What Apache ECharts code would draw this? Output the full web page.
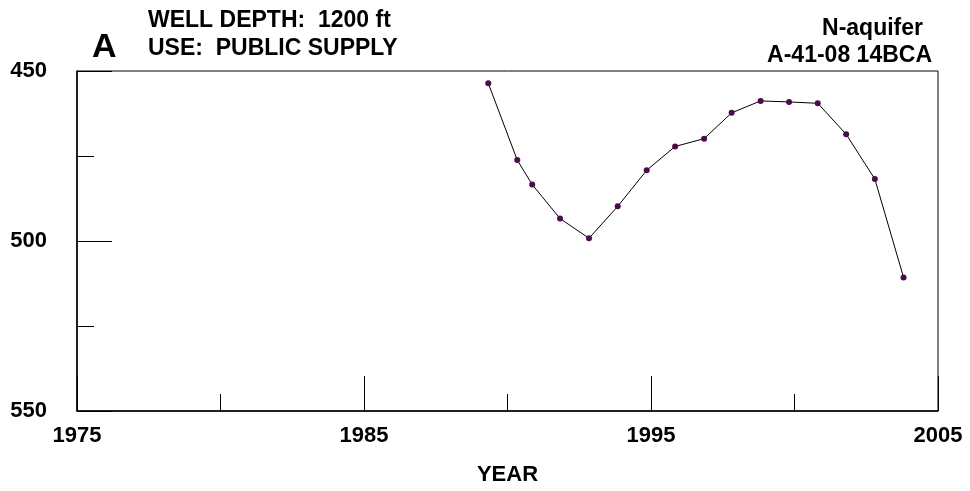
<!DOCTYPE html>
<html>
<head>
<meta charset="utf-8">
<script src="https://cdn.jsdelivr.net/npm/echarts@6/dist/echarts.min.js"></script>
<style>
  html, body { margin: 0; padding: 0; background: #fff; }
  #chart { width: 970px; height: 491px; }
</style>
</head>
<body>
<div id="chart"></div>
<script>
// Depth to water (ft below land surface) by measurement date (decimal year)
const years = [1989.33, 1990.34, 1990.86, 1991.83, 1992.84, 1993.84, 1994.85, 1995.84,
               1996.85, 1997.81, 1998.82, 1999.81, 2000.81, 2001.8, 2002.8, 2003.8];
const depths = [453.6, 476.2, 483.4, 493.4, 499.2, 489.8, 479.2, 472.2,
                469.9, 462.3, 458.8, 459.1, 459.5, 468.6, 481.8, 510.7];
const xTicks = [1975, 1985, 1995, 2005];
const yTicks = [450, 500, 550];

const font = '"Liberation Sans", Arial, sans-serif';
const chart = echarts.init(document.getElementById('chart'), null, { renderer: 'canvas' });

chart.setOption({
  animation: false,
  backgroundColor: '#ffffff',
  grid: {
    left: 77, right: 32, top: 71, bottom: 76,
    show: true, borderColor: '#000', borderWidth: 1
  },
  xAxis: {
    type: 'value',
    min: xTicks[0], max: xTicks[xTicks.length - 1], interval: 10,
    name: 'YEAR', nameLocation: 'middle', nameGap: 53,
    nameTextStyle: { fontFamily: font, fontWeight: 'bold', fontSize: 22, color: '#000' },
    axisLine: { lineStyle: { color: '#000', width: 1.5 } },
    axisTick: { inside: true, length: 35, lineStyle: { color: '#000', width: 1 } },
    minorTick: { show: true, splitNumber: 2, length: 17, lineStyle: { color: '#000', width: 1 } },
    axisLabel: {
      margin: 14, fontFamily: font, fontWeight: 'bold', fontSize: 22, color: '#000',
      formatter: v => String(v)
    },
    splitLine: { show: false }
  },
  yAxis: {
    type: 'value', inverse: true,
    min: yTicks[0], max: yTicks[yTicks.length - 1], interval: 50,
    axisLine: { show: true, lineStyle: { color: '#000', width: 1.5 } },
    axisTick: { show: true, inside: true, length: 35, lineStyle: { color: '#000', width: 1 } },
    minorTick: { show: true, splitNumber: 2, length: 17, lineStyle: { color: '#000', width: 1 } },
    axisLabel: {
      margin: 30, fontFamily: font, fontWeight: 'bold', fontSize: 22, color: '#000',
      formatter: v => String(v)
    },
    splitLine: { show: false }
  },
  series: [{
    type: 'line',
    data: years.map((y, i) => [y, depths[i]]),
    symbol: 'circle', symbolSize: 6,
    lineStyle: { color: '#000', width: 1 },
    itemStyle: { color: '#4d0b4f' }
  }],
  graphic: [
    { type: 'text', x: 92, y: 48,
      style: { text: 'A', font: 'bold 34px ' + font, fill: '#000', textVerticalAlign: 'middle' } },
    { type: 'text', x: 148, y: 21,
      style: { text: 'WELL DEPTH:  1200 ft', font: 'bold 23px ' + font, fill: '#000', textVerticalAlign: 'middle' } },
    { type: 'text', x: 148, y: 49,
      style: { text: 'USE:  PUBLIC SUPPLY', font: 'bold 23px ' + font, fill: '#000', textVerticalAlign: 'middle' } },
    { type: 'text', x: 923, y: 29,
      style: { text: 'N-aquifer', font: 'bold 23px ' + font, fill: '#000', textAlign: 'right', textVerticalAlign: 'middle' } },
    { type: 'text', x: 932, y: 56,
      style: { text: 'A-41-08 14BCA', font: 'bold 23px ' + font, fill: '#000', textAlign: 'right', textVerticalAlign: 'middle' } }
  ]
});
</script>
</body>
</html>
